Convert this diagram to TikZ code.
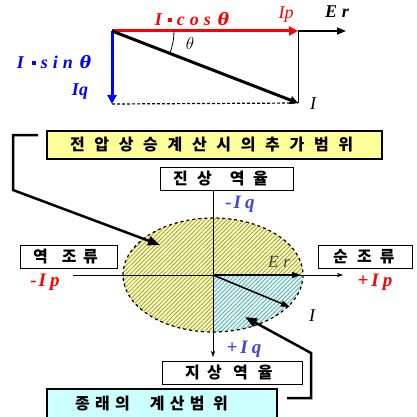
\documentclass[tikz,border=0pt]{standalone}
\usepackage{fontspec}
\usetikzlibrary{arrows.meta,patterns.meta}
\newfontfamily\kor{Noto Sans CJK KR}
\newfontfamily\tnr{Liberation Serif}
\newfontfamily\dvs{DejaVu Serif}
\definecolor{boxyel}{RGB}{255,255,153}
\definecolor{boxcyan}{RGB}{204,255,255}
\definecolor{slate}{RGB}{70,70,210}
\newcommand{\cell}[2]{\makebox[#1pt][l]{#2}}
\newcommand{\dotsq}[0]{\rule[3pt]{4pt}{4pt}}
\newcommand{\bth}[0]{{\dvs\fontsize{17}{17}\selectfont θ}}
\tikzset{
  epais/.style={line width=2.5pt},
  kbox/.style={draw, inner sep=0pt, font=\kor\bfseries\fontsize{16}{16}\selectfont},
  lab/.style={font=\tnr\bfseries\itshape\fontsize{18}{18}\selectfont, inner sep=0pt}
}
\begin{document}
\begin{tikzpicture}[x=1pt, y=-1pt]
\useasboundingbox (0,0) rectangle (416,417);
%The vector triangle
	\coordinate (o) at (112,31);
	\coordinate (p) at (298,31);
	\coordinate (er) at (346,31);
	\coordinate (q) at (112,104);
	\coordinate (i) at (298,103);
	\draw[black, thin] (p) -- (i);
	\draw[densely dashed, line width=1.2pt] (q) -- (i);
	\draw[line width=1.5pt, -{Triangle[length=9pt,width=7pt]}] (p) -- (er);
	\draw[red, line width=3pt, -{Triangle[length=9pt,width=9pt]}] (o) -- (p);
	\draw[blue, line width=3pt, -{Triangle[length=9pt,width=9pt]}] (o) -- (q);
	\draw[line width=3pt, -{Triangle[length=8pt,width=8pt]}] (o) -- (i);
	\draw[thick] ([shift={(0:62)}]o) arc[start angle=0, end angle=21, radius=62];
	\node (th) at (190,44) {\fontsize{16}{16}\selectfont$\theta$};
	\node[lab, red] (cos) at (192,19) {I\hspace{6pt}\dotsq\hspace{5pt}c\hspace{5pt}o\hspace{5pt}s\hspace{7pt}\bth};
	\node[red, font=\tnr\itshape\fontsize{18}{18}\selectfont, inner sep=0pt] (ip) at (286,15) {Ip};
	\node[lab] (ertop) at (337,12) {E\hspace{5pt}r};
	\node[lab, blue] (sin) at (54,62) {I\hspace{8pt}\dotsq\hspace{5pt}s\hspace{5pt}i\hspace{5pt}n\hspace{7pt}\bth};
	\node[lab, blue] (iq) at (80,92) {Iq};
	\node[font=\tnr\itshape\fontsize{18}{18}\selectfont, inner sep=0pt] (itop) at (313,104) {I};
%The circle diagram
	\coordinate (c) at (213,275);
	\fill[boxyel] (c) ellipse [x radius=90, y radius=57];
	\begin{scope}
	\clip (c) ellipse [x radius=90, y radius=57];
	\fill[boxcyan] (c) rectangle ++(95,62);
	\end{scope}
	\fill[pattern={Lines[angle=45,distance=3pt,line width=0.7pt]}, pattern color=black!45]
		(c) ellipse [x radius=90, y radius=57];
	\draw[dashed, line width=1.2pt] (c) ellipse [x radius=90, y radius=57];
%Boxes
	\node[kbox, fill=boxyel, line width=1.5pt, minimum width=335pt, minimum height=28pt] (extra) at (214.5,145)
		{\cell{24.4}{전}\cell{24.4}{압}\cell{24.4}{상}\cell{24.4}{승}\cell{24.4}{계}\cell{24.4}{산}%
		 \cell{24.4}{시}\cell{24.4}{의}\cell{24.4}{추}\cell{24.4}{가}\cell{24.4}{범}\cell{20.6}{위}};
	\node[kbox, thin, minimum width=133pt, minimum height=23pt] (lead) at (226.5,178.5)
		{\cell{24}{진}\cell{33}{상}\cell{23}{역}\cell{27}{율}};
	\node[kbox, thin, minimum width=97pt, minimum height=23pt] (rev) at (68.5,256.5)
		{\cell{29}{역}\cell{21}{조}\cell{21}{류}};
	\node[kbox, thin, minimum width=94pt, minimum height=23pt] (fwd) at (365,256.5)
		{\cell{24}{순}\cell{23}{조}\cell{17}{류}};
	\node[kbox, thin, minimum width=140pt, minimum height=23pt] (lag) at (232,372.5)
		{\cell{22}{지}\cell{26}{상}\cell{25}{역}\cell{21}{율}};
	\node[kbox, fill=boxcyan, line width=1.5pt, minimum width=230pt, minimum height=30pt] (conv) at (162,404)
		{\cell{20}{종}\cell{20}{래}\cell{35}{의}\cell{20}{계}\cell{20}{산}\cell{23}{범}\cell{36}{위}};
%Axes
	\coordinate (ax) at (213,190);
	\coordinate (ay) at (213,357);
	\coordinate (bx) at (73,275);
	\coordinate (by) at (343,275);
	\coordinate (ec) at (301,275);
	\coordinate (ic) at (290,307);
	\draw[-{Stealth[length=6pt,width=4pt]}] (ax) -- (ay);
	\draw[-{Stealth[length=6pt,width=4pt]}] (bx) -- (by);
	\draw[line width=1.5pt, -{Triangle[length=9pt,width=6pt]}] (c) -- (ec);
	\draw[line width=1.5pt, -{Triangle[length=9pt,width=6pt]}] (c) -- (ic);
	\node[font=\tnr\itshape\fontsize{17}{17}\selectfont, text=black!75, inner sep=0pt] (erc) at (279,262) {E\hspace{5pt}r};
	\node[font=\tnr\itshape\fontsize{18}{18}\selectfont, inner sep=0pt] (ib) at (312,316) {I};
	\node[lab, slate, font=\tnr\bfseries\itshape\fontsize{19}{19}\selectfont] (miq) at (240,204) {-\hspace{2pt}I\hspace{4pt}q};
	\node[lab, slate, font=\tnr\bfseries\itshape\fontsize{19}{19}\selectfont] (piq) at (244,349) {+\hspace{3pt}I\hspace{4pt}q};
	\node[lab, red, font=\tnr\bfseries\itshape\fontsize{19}{19}\selectfont] (mip) at (45,282) {-\hspace{2pt}I\hspace{4pt}p};
	\node[lab, red, font=\tnr\bfseries\itshape\fontsize{19}{19}\selectfont] (pip) at (375,282) {+\hspace{3pt}I\hspace{4pt}p};
%Connectors
	\coordinate (ya) at (38,135);
	\coordinate (yb) at (13,135);
	\coordinate (yc) at (13,190);
	\coordinate (yd) at (160,245);
	\draw[epais, -{Triangle[length=12pt,width=9pt]}] (ya) -- (yb) -- (yc) -- (yd);
	\coordinate (ca) at (287,398);
	\coordinate (cb) at (311,398);
	\coordinate (cc) at (311,353);
	\coordinate (cd) at (245,317);
	\draw[epais, -{Triangle[length=12pt,width=9pt]}] (ca) -- (cb) -- (cc) -- (cd);
\end{tikzpicture}
\end{document}
